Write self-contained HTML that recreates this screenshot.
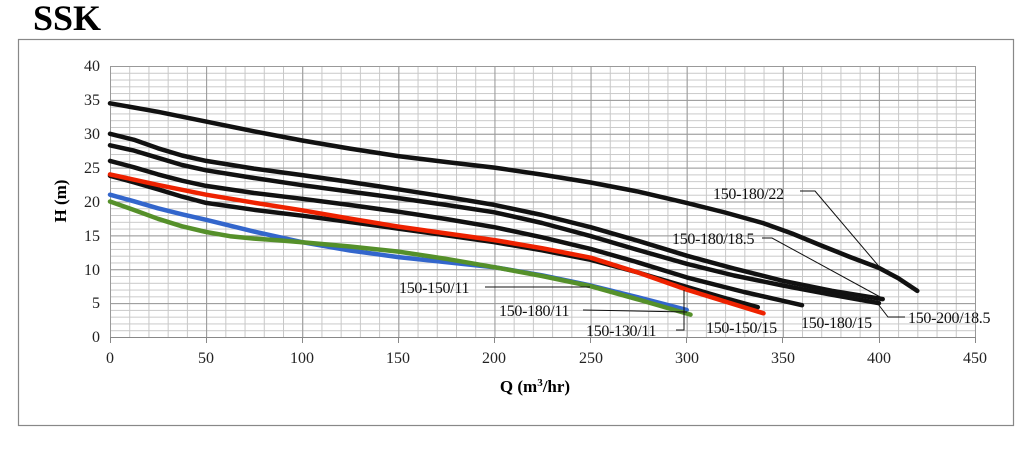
<!DOCTYPE html>
<html><head><meta charset="utf-8"><style>
body{margin:0;background:#fff;width:1030px;height:444px;overflow:hidden}
svg{font-family:"Liberation Serif",serif}
</style></head><body>
<svg width="1030" height="444" viewBox="0 0 1030 444">
<defs>
<pattern id="minor" x="110" y="66" width="19.222" height="6.775" patternUnits="userSpaceOnUse">
<path d="M0.5,0 V6.775 M0,0.5 H19.222" stroke="#c8c8c8" stroke-width="1" fill="none"/>
</pattern>
<pattern id="major" x="110" y="66" width="96.11" height="33.875" patternUnits="userSpaceOnUse">
<path d="M0.5,0 V33.875 M0,0.5 H96.11" stroke="#999" stroke-width="1" fill="none"/>
</pattern>
</defs>
<text x="33" y="30" font-size="36" font-weight="bold">SSK</text>
<rect x="18.5" y="39.5" width="995" height="386" fill="none" stroke="#888" stroke-width="1.2"/>
<rect x="110" y="66" width="866" height="271" fill="url(#minor)"/>
<rect x="110" y="66" width="866" height="271" fill="url(#major)"/>
<line x1="975.5" y1="66" x2="975.5" y2="337" stroke="#999"/>
<line x1="110" y1="337.5" x2="976" y2="337.5" stroke="#888"/>
<g stroke="#888">
<line x1="110.5" y1="337" x2="110.5" y2="343"/><line x1="206.5" y1="337" x2="206.5" y2="343"/>
<line x1="302.5" y1="337" x2="302.5" y2="343"/><line x1="398.5" y1="337" x2="398.5" y2="343"/>
<line x1="494.5" y1="337" x2="494.5" y2="343"/><line x1="590.5" y1="337" x2="590.5" y2="343"/>
<line x1="686.5" y1="337" x2="686.5" y2="343"/><line x1="782.5" y1="337" x2="782.5" y2="343"/>
<line x1="879.5" y1="337" x2="879.5" y2="343"/><line x1="975.5" y1="337" x2="975.5" y2="343"/>
</g>
<g fill="none" stroke-linecap="round" stroke-linejoin="round" stroke-width="4.5">
<polyline stroke="#111" points="110,103.3 158,111.8 206.1,121.6 254,131.3 302.2,140.5 350,148.6 398.3,156.1 446,162 494.4,167.6 542,174.6 590.6,182.5 638,191.6 686.7,202.9 725,212.5 763.5,223.2 792,233.5 821.2,245.5 850,257 878.9,267.9 898.1,278.1 917.3,290.9"/>
<polyline stroke="#111" points="110,133.8 134,139.8 158,148.3 182,155.5 206.1,160.9 254,168.6 302.2,175.1 350,182 398.3,189.3 446,196.8 494.4,204.9 542,215 590.6,227.2 638,240.8 686.7,255.7 734,268.6 782.8,280.8 832,290.8 882.7,299.1"/>
<polyline stroke="#111" points="110,145.3 134,150.6 158,157.8 182,165 206.1,170.3 254,178 302.2,185.2 350,191.6 398.3,198.1 446,204.9 494.4,212.3 542,223 590.6,236.1 638,250 686.7,263.8 734,275.5 782.8,285.5 832,294.8 878.9,303.1"/>
<polyline stroke="#111" points="110,160.9 134,167.3 158,174.4 182,180.7 206.1,185.9 254,193 302.2,198.8 350,205 398.3,211.7 446,219 494.4,227.2 542,237.3 590.6,248.9 638,262.4 686.7,277.4 744,292 802,305.2"/>
<polyline stroke="#111" points="110,175.8 134,182.3 158,189.3 182,196.6 206.1,202.9 254,209.8 302.2,215.7 350,222 398.3,228.6 446,235.3 494.4,242.2 542,250.3 590.6,259.8 638,272.5 686.7,286.9 722,297.3 757.8,307.2"/>
<polyline stroke="#ee2200" points="110,174.4 158,184.9 206.1,194.7 254,202.7 302.2,210.3 350,218.6 398.3,226.6 446,233.4 494.4,240.1 542,248.2 590.6,257.7 638,272.5 686.7,289.6 725,301.5 763.5,313.3"/>
<polyline stroke="#3366cc" points="110,194.7 134,201.3 158,208.3 182,214.3 206.1,219.8 254,231.6 302.2,242.2 350,250.5 398.3,257.1 446,262.2 494.4,267.2 542,275.3 590.6,285.5 638,297.3 686.7,309.9"/>
<polyline stroke="#55902a" points="110,201.5 134,210 158,218.8 182,226.3 206.1,232 230,236.2 254.2,238.6 278,240.2 302.2,242.2 350,246.5 398.3,251.6 446,258.8 494.4,267.2 542,276 590.6,286.2 640,300 690.5,314.6"/>
</g>
<g font-size="16" fill="#222">
<text x="100" y="71" text-anchor="end">40</text><text x="100" y="105" text-anchor="end">35</text>
<text x="100" y="139" text-anchor="end">30</text><text x="100" y="173" text-anchor="end">25</text>
<text x="100" y="207" text-anchor="end">20</text><text x="100" y="241" text-anchor="end">15</text>
<text x="100" y="275" text-anchor="end">10</text><text x="100" y="308" text-anchor="end">5</text>
<text x="100" y="342" text-anchor="end">0</text>
<text x="110" y="363" text-anchor="middle">0</text><text x="206" y="363" text-anchor="middle">50</text>
<text x="302" y="363" text-anchor="middle">100</text><text x="398" y="363" text-anchor="middle">150</text>
<text x="494" y="363" text-anchor="middle">200</text><text x="591" y="363" text-anchor="middle">250</text>
<text x="687" y="363" text-anchor="middle">300</text><text x="783" y="363" text-anchor="middle">350</text>
<text x="879" y="363" text-anchor="middle">400</text><text x="975" y="363" text-anchor="middle">450</text>
</g>
<text x="535" y="392" font-size="17" font-weight="bold" text-anchor="middle">Q (m<tspan font-size="11" dy="-6">3</tspan><tspan dy="6">/hr)</tspan></text>
<text transform="translate(66,201) rotate(-90)" font-size="17" font-weight="bold" text-anchor="middle">H (m)</text>
<g font-size="16" fill="#111" letter-spacing="-0.3">
<text x="713" y="199">150-180/22</text>
<text x="672" y="244">150-180/18.5</text>
<text x="908" y="323">150-200/18.5</text>
<text x="801" y="328">150-180/15</text>
<text x="706" y="333">150-150/15</text>
<text x="399" y="293">150-150/11</text>
<text x="499" y="316">150-180/11</text>
<text x="586" y="336">150-130/11</text>
</g>
<g stroke="#111" stroke-width="1" fill="none">
<polyline points="800,191 815,191 882,270"/>
<polyline points="762,238 772,238 882,298"/>
<polyline points="905,317 888,317 878,304"/>
<polyline points="485,287 590,287"/>
<polyline points="583,310 687,312"/>
<polyline points="676,330 684,330 684,290"/>
</g>
</svg>
</body></html>
